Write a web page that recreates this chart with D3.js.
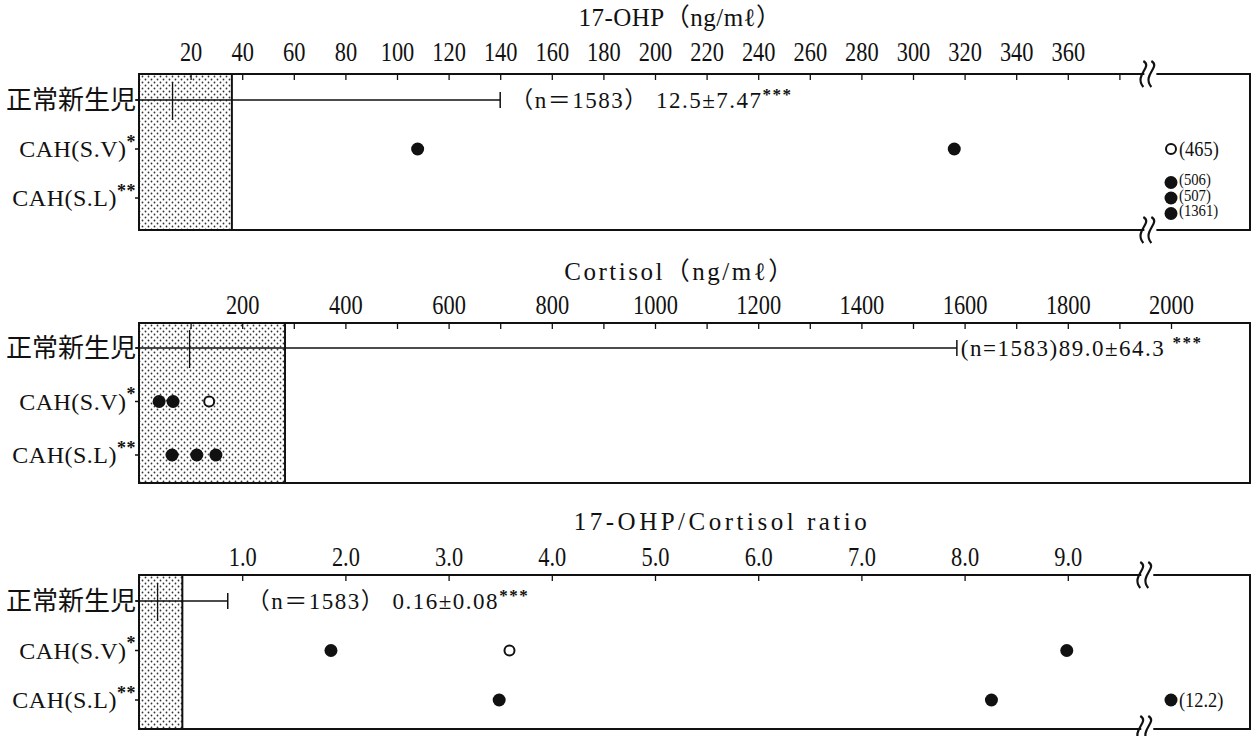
<!DOCTYPE html>
<html>
<head>
<meta charset="utf-8">
<script src="https://cdn.jsdelivr.net/npm/d3@7"></script>
<style>
  body { margin: 0; background: #fff; }
  text { font-family: "Liberation Serif", "DejaVu Serif", "Noto Sans CJK JP", serif; fill: #111; }
  .jp { font-family: "Noto Sans CJK JP", sans-serif; }
</style>
</head>
<body>
<script>
const w = 1255;
const h = 736;

// rows
const rowNames = ["正常新生児", "CAH(S.V)", "CAH(S.L)"];
const rowStars = ["", "*", "**"];

// 17-OHP (ng/ml)
const ohpTicks = d3.range(20, 381, 20);
const ohpLabels = d3.range(20, 361, 20);
const ohpShade = 36;
const ohpNormal = [0, 140];
const ohpMean = 13;
const ohpSVFilled = [108, 316];
const ohpSVOpen = [465];
const ohpSLFilled = [506, 507, 1361];
const ohpSLOpen = [];

// Cortisol (ng/ml)
const cortTicks = d3.range(100, 2001, 100);
const cortLabels = d3.range(200, 2001, 200);
const cortShade = 283;
const cortNormal = [0, 1585];
const cortMean = 98;
const cortSVFilled = [39, 66];
const cortSVOpen = [136];
const cortSLFilled = [64, 112, 149];
const cortSLOpen = [];

// 17-OHP/Cortisol ratio
const ratioTicks = d3.range(1, 10, 1);
const ratioLabels = d3.range(1, 10, 1);
const ratioShade = 0.42;
const ratioNormal = [0, 0.86];
const ratioMean = 0.18;
const ratioSVFilled = [1.86, 8.99];
const ratioSVOpen = [3.59];
const ratioSLFilled = [3.49, 8.26, 12.2];
const ratioSLOpen = [];

const svg = d3.select("body")
  .append("svg")
  .attr("width", w)
  .attr("height", h);

// stipple used for the normal range
const pat = svg.append("defs").append("pattern")
  .attr("id", "dots")
  .attr("width", 6)
  .attr("height", 6)
  .attr("patternUnits", "userSpaceOnUse");
pat.append("rect").attr("width", 6).attr("height", 6).attr("fill", "#fff");
pat.append("circle").attr("cx", 1.5).attr("cy", 1.5).attr("r", 0.9).attr("fill", "#333");
pat.append("circle").attr("cx", 4.5).attr("cy", 4.5).attr("r", 0.9).attr("fill", "#333");

const left = 139;
const right = 1250;
const scaleEnd = 1171;

const points = (filled, open) =>
  filled.map(v => ({ v: v, open: false })).concat(open.map(v => ({ v: v, open: true })));

const panels = [
  {
    title: "17-OHP（ng/mℓ）", titleX: 680, titleY: 26, titleSpacing: 0.5,
    top: 74, bottom: 230, max: 400, breakAt: 392, overflowAt: 400,
    ticks: ohpTicks, labels: ohpLabels, fmt: d3.format("d"), pad: 13,
    shade: ohpShade, normal: ohpNormal, mean: ohpMean,
    note: "（n＝1583） 12.5±7.47", noteGap: 10, noteSpacing: 1.5,
    rowY: [100, 198],
    rows: [points(ohpSVFilled, ohpSVOpen), points(ohpSLFilled, ohpSLOpen)]
  },
  {
    title: "Cortisol（ng/mℓ）", titleX: 680, titleY: 280, titleSpacing: 2.5,
    top: 323, bottom: 483, max: 2000, breakAt: null, overflowAt: null,
    ticks: cortTicks, labels: cortLabels, fmt: d3.format("d"), pad: 9,
    shade: cortShade, normal: cortNormal, mean: cortMean,
    note: "(n=1583)89.0±64.3 ", noteGap: 4, noteSpacing: 1.5,
    rowY: [348, 455],
    rows: [points(cortSVFilled, cortSVOpen), points(cortSLFilled, cortSLOpen)]
  },
  {
    title: "17-OHP/Cortisol  ratio", titleX: 722, titleY: 530, titleSpacing: 3.5,
    top: 575, bottom: 729, max: 10, breakAt: 9.77, overflowAt: 10,
    ticks: ratioTicks, labels: ratioLabels, fmt: d3.format(".1f"), pad: 9,
    shade: ratioShade, normal: ratioNormal, mean: ratioMean,
    note: "（n＝1583） 0.16±0.08", noteGap: 19, noteSpacing: 1.5,
    rowY: [601, 700],
    rows: [points(ratioSVFilled, ratioSVOpen), points(ratioSLFilled, ratioSLOpen)]
  }
];

panels.forEach(p => {
  const g = svg.append("g");
  const x = d3.scaleLinear().domain([0, p.max]).range([left, scaleEnd]);
  const y = d3.scalePoint().domain(rowNames).range(p.rowY);

  // normal range stipple
  g.append("rect")
    .attr("x", x(0))
    .attr("y", p.top)
    .attr("width", x(p.shade) - x(0))
    .attr("height", p.bottom - p.top)
    .attr("fill", "url(#dots)");
  g.append("line")
    .attr("x1", x(p.shade)).attr("x2", x(p.shade))
    .attr("y1", p.top).attr("y2", p.bottom)
    .attr("stroke", "#111").attr("stroke-width", 2);

  // frame
  g.append("rect")
    .attr("x", left)
    .attr("y", p.top)
    .attr("width", right - left)
    .attr("height", p.bottom - p.top)
    .attr("fill", "none")
    .attr("stroke", "#111")
    .attr("stroke-width", 2);

  // inner ticks
  const tickG = g.append("g")
    .attr("transform", `translate(0,${p.top})`)
    .call(d3.axisBottom(x).tickValues(p.ticks).tickSize(6).tickFormat(""));
  tickG.select(".domain").remove();
  tickG.selectAll("line").attr("stroke", "#111").attr("stroke-width", 1.3);

  // tick labels
  const labG = g.append("g")
    .attr("transform", `translate(0,${p.top})`)
    .call(d3.axisTop(x).tickValues(p.labels).tickSize(0).tickPadding(p.pad).tickFormat(p.fmt));
  labG.select(".domain").remove();
  labG.selectAll("text")
    .attr("font-size", 28)
    .attr("font-family", "Liberation Serif")
    .attr("fill", "#111")
    .attr("transform", "scale(0.8,1)");

  // break marks
  if (p.breakAt !== null) {
    const bx = x(p.breakAt);
    [p.top, p.bottom].forEach(yy => {
      g.append("rect")
        .attr("x", bx - 6).attr("y", yy - 2)
        .attr("width", 12).attr("height", 4)
        .attr("fill", "#fff");
      [-4, 4].forEach(off => {
        g.append("path")
          .attr("d", `M${bx + off - 3},${yy - 13} c 10,6 -10,14 0,26`)
          .attr("fill", "none")
          .attr("stroke", "#111")
          .attr("stroke-width", 2.2);
      });
    });
  }

  // title
  g.append("text")
    .attr("x", p.titleX)
    .attr("y", p.titleY)
    .attr("text-anchor", "middle")
    .attr("font-size", 25)
    .attr("letter-spacing", p.titleSpacing)
    .text(p.title);

  // row labels
  rowNames.forEach((r, i) => {
    g.append("line")
      .attr("x1", left - 4).attr("x2", left)
      .attr("y1", y(r)).attr("y2", y(r))
      .attr("stroke", "#111").attr("stroke-width", 1.5);
    if (i === 0) {
      g.append("text")
        .attr("class", "jp")
        .attr("x", left - 3)
        .attr("y", y(r))
        .attr("dy", "0.36em")
        .attr("text-anchor", "end")
        .attr("font-size", 26)
        .text(r);
    } else {
      const t = g.append("text")
        .attr("transform", `translate(${left - 3},${y(r)})`)
        .attr("dy", "0.35em")
        .attr("text-anchor", "end")
        .attr("font-size", 24)
        .attr("letter-spacing", 0.5);
      t.append("tspan").text(r);
      t.append("tspan")
        .attr("font-size", 18)
        .attr("dy", "-0.55em")
        .attr("font-weight", "bold")
        .text(rowStars[i]);
    }
  });

  // normal newborn range
  const y0 = y(rowNames[0]);
  g.append("line")
    .attr("x1", x(p.normal[0]) - 3).attr("x2", x(p.normal[1]))
    .attr("y1", y0).attr("y2", y0)
    .attr("stroke", "#111").attr("stroke-width", 1.3);
  g.append("line")
    .attr("x1", x(p.normal[1])).attr("x2", x(p.normal[1]))
    .attr("y1", y0 - 8).attr("y2", y0 + 8)
    .attr("stroke", "#111").attr("stroke-width", 1.5);
  g.append("line")
    .attr("x1", x(p.mean)).attr("x2", x(p.mean))
    .attr("y1", y0 - 18).attr("y2", y0 + 20)
    .attr("stroke", "#111").attr("stroke-width", 1.3);
  const note = g.append("text")
    .attr("x", x(p.normal[1]) + p.noteGap)
    .attr("y", y0)
    .attr("dy", "0.36em")
    .attr("font-size", 23)
    .attr("letter-spacing", p.noteSpacing);
  note.append("tspan").text(p.note);
  note.append("tspan")
    .attr("font-size", 17)
    .attr("dy", "-0.5em")
    .attr("font-weight", "bold")
    .text("***");

  // CAH cases
  p.rows.forEach((pts, ri) => {
    const yy = y(rowNames[ri + 1]);
    const inside = pts.filter(d => d.v <= p.max);
    const over = pts.filter(d => d.v > p.max);

    g.selectAll(null)
      .data(inside)
      .enter()
      .append("circle")
      .attr("cx", d => x(d.v))
      .attr("cy", yy)
      .attr("r", d => d.open ? 5 : 6.5)
      .attr("fill", d => d.open ? "#fff" : "#111")
      .attr("stroke", "#111")
      .attr("stroke-width", d => d.open ? 2 : 0);

    // values past the break, stacked and labelled
    const n = over.length;
    over.forEach((d, k) => {
      const cy = yy + (k - (n - 1) / 2) * 15.5;
      const cx = x(p.overflowAt);
      g.append("circle")
        .attr("cx", cx)
        .attr("cy", cy)
        .attr("r", d.open ? 5 : 6.5)
        .attr("fill", d.open ? "#fff" : "#111")
        .attr("stroke", "#111")
        .attr("stroke-width", d.open ? 2 : 0);
      g.append("text")
        .attr("transform", `translate(${cx + 8},${cy - (n > 1 ? 3 : 0)}) scale(0.92,1)`)
        .attr("dy", "0.35em")
        .attr("font-size", n > 1 ? 16 : 20)
        .text("(" + d.v + ")");
    });
  });
});
</script>
</body>
</html>
